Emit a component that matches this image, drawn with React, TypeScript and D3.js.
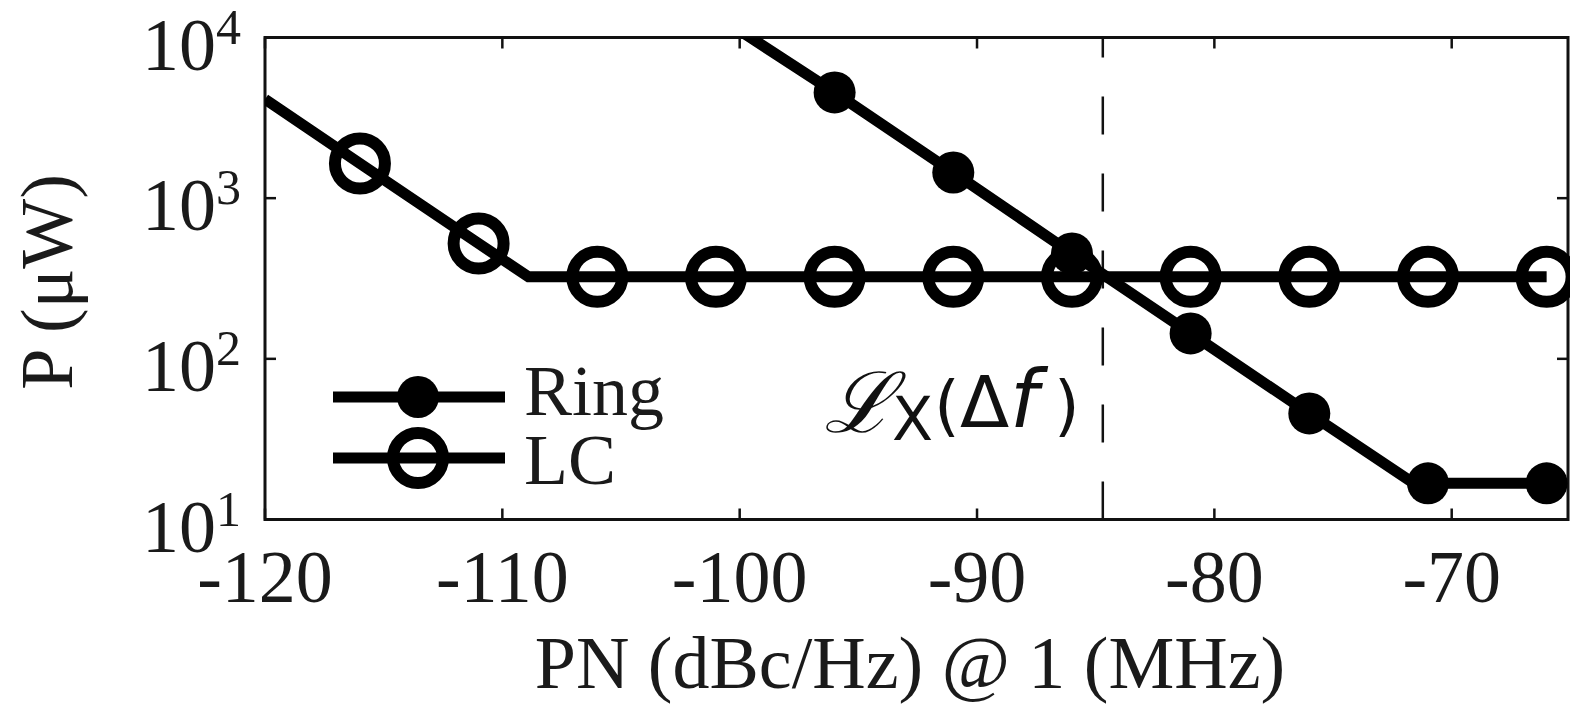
import React, { useRef, useEffect } from 'react'
import * as d3 from 'd3'

// axis ticks
const pnTicks = [-120, -110, -100, -90, -80, -70]
const powerTicks = [10, 100, 1000, 10000]

// Ring oscillator (filled markers)
const ringLinePN = [-101, -96, -91, -86, -81, -76, -71.6, -66]
const ringLineP = [13800, 4550, 1445, 453, 144, 45.7, 16.8, 16.8]
const ringMarkPN = [-96, -91, -86, -81, -76, -71, -66]
const ringMarkP = [4550, 1445, 453, 144, 45.7, 16.8, 16.8]

// LC oscillator (open markers)
const lcLinePN = [-120, -116, -111, -108.9, -66]
const lcLineP = [4130, 1644, 522, 324, 324]
const lcMarkPN = [-116, -111, -106, -101, -96, -91, -86, -81, -76, -71, -66]
const lcMarkP = [1644, 522, 324, 324, 324, 324, 324, 324, 324, 324, 324]

// crossing point marked by the dashed line
const crossPN = -84.7

const serif = '"Liberation Serif", "Times New Roman", serif'

export default function App() {
  const svgRef = useRef<SVGSVGElement>(null)

  useEffect(() => {
    const width = 1570
    const height = 704
    const left = 265, right = 1568, top = 37.5, bottom = 519.5

    const svg = d3.select(svgRef.current)
    svg.selectAll('*').remove()
    svg.attr('viewBox', `0 0 ${width} ${height}`)

    const x = d3.scaleLinear().domain([-120, -65.1]).range([left, right])
    const y = d3.scaleLog().domain([10, 10000]).range([bottom, top])

    svg.append('defs').append('clipPath').attr('id', 'plotclip')
      .append('rect')
      .attr('x', left).attr('y', top)
      .attr('width', right - left).attr('height', bottom - top)

    // ticks (inward, all four sides)
    const tk = svg.append('g').attr('stroke', '#111').attr('stroke-width', 2.5)
    pnTicks.forEach(t => {
      tk.append('line').attr('x1', x(t)).attr('x2', x(t)).attr('y1', bottom).attr('y2', bottom - 11)
      tk.append('line').attr('x1', x(t)).attr('x2', x(t)).attr('y1', top).attr('y2', top + 11)
    })
    powerTicks.forEach(t => {
      tk.append('line').attr('x1', left).attr('x2', left + 11).attr('y1', y(t)).attr('y2', y(t))
      tk.append('line').attr('x1', right).attr('x2', right - 11).attr('y1', y(t)).attr('y2', y(t))
    })

    // dashed crossing line, drawn bottom to top
    svg.append('line')
      .attr('x1', x(crossPN)).attr('x2', x(crossPN))
      .attr('y1', bottom).attr('y2', top)
      .attr('stroke', '#111').attr('stroke-width', 2.5)
      .attr('stroke-dasharray', '38 39')

    // frame
    svg.append('rect')
      .attr('x', left).attr('y', top)
      .attr('width', right - left).attr('height', bottom - top)
      .attr('fill', 'none').attr('stroke', '#111').attr('stroke-width', 3)

    // x tick labels
    svg.append('g').selectAll('text').data(pnTicks).join('text')
      .attr('x', d => x(d)).attr('y', 602)
      .attr('text-anchor', 'middle')
      .attr('font-family', serif).attr('font-size', 74).attr('fill', '#1a1a1a')
      .text(d => String(d))

    // y tick labels 10^n
    const yl = svg.append('g').attr('font-family', serif).attr('fill', '#1a1a1a')
    powerTicks.forEach(t => {
      yl.append('text').attr('x', 216).attr('y', y(t) + 32)
        .attr('text-anchor', 'end').attr('font-size', 74).text('10')
      yl.append('text').attr('x', 216).attr('y', y(t) + 6)
        .attr('font-size', 50).text(String(Math.round(Math.log10(t))))
    })

    // axis titles
    svg.append('text')
      .attr('x', 910).attr('y', 688)
      .attr('text-anchor', 'middle')
      .attr('font-family', serif).attr('font-size', 74).attr('fill', '#1a1a1a')
      .text('PN (dBc/Hz) @ 1 (MHz)')
    svg.append('text')
      .attr('transform', 'translate(72,282) rotate(-90)')
      .attr('text-anchor', 'middle')
      .attr('font-family', serif).attr('font-size', 74).attr('fill', '#1a1a1a')
      .text('P (μW)')

    const line = d3.line<[number, number]>()
      .x(d => x(d[0]))
      .y(d => y(d[1]))

    const plot = svg.append('g').attr('clip-path', 'url(#plotclip)')
    plot.append('path')
      .datum(lcLinePN.map((v, i) => [v, lcLineP[i]] as [number, number]))
      .attr('d', line)
      .attr('fill', 'none').attr('stroke', '#000').attr('stroke-width', 11)
    plot.append('path')
      .datum(ringLinePN.map((v, i) => [v, ringLineP[i]] as [number, number]))
      .attr('d', line)
      .attr('fill', 'none').attr('stroke', '#000').attr('stroke-width', 11)

    svg.append('g').selectAll('circle').data(ringMarkPN).join('circle')
      .attr('cx', d => x(d)).attr('cy', (d, i) => y(ringMarkP[i]))
      .attr('r', 21).attr('fill', '#000')
    svg.append('g').selectAll('circle').data(lcMarkPN).join('circle')
      .attr('cx', d => x(d)).attr('cy', (d, i) => y(lcMarkP[i]))
      .attr('r', 25).attr('fill', 'none').attr('stroke', '#000').attr('stroke-width', 12)

    // legend
    const lg = svg.append('g')
    lg.append('line').attr('x1', 333).attr('x2', 505).attr('y1', 397).attr('y2', 397)
      .attr('stroke', '#000').attr('stroke-width', 11)
    lg.append('circle').attr('cx', 418).attr('cy', 397).attr('r', 21).attr('fill', '#000')
    lg.append('line').attr('x1', 333).attr('x2', 505).attr('y1', 458).attr('y2', 458)
      .attr('stroke', '#000').attr('stroke-width', 11)
    lg.append('circle').attr('cx', 418).attr('cy', 458).attr('r', 25)
      .attr('fill', 'none').attr('stroke', '#000').attr('stroke-width', 12)
    lg.append('text').attr('x', 524).attr('y', 415)
      .attr('font-family', serif).attr('font-size', 72).attr('fill', '#1a1a1a').text('Ring')
    lg.append('text').attr('x', 524).attr('y', 484)
      .attr('font-family', serif).attr('font-size', 72).attr('fill', '#1a1a1a').text('LC')

    // annotation L_X(Δf)
    const an = svg.append('g').attr('font-family', '"DejaVu Sans", sans-serif').attr('fill', '#111')
    an.append('text').attr('x', 824).attr('y', 432).attr('font-size', 84)
      .attr('font-family', '"DejaVu Serif", serif').attr('font-style', 'italic').text('ℒ')
    an.append('text').attr('x', 892).attr('y', 440).attr('font-size', 60).text('X')
    an.append('text').attr('x', 934).attr('y', 428).attr('font-size', 66).text('(')
    an.append('text').attr('x', 960).attr('y', 427).attr('font-size', 72).text('Δ')
    an.append('text').attr('x', 1010).attr('y', 427).attr('font-size', 80)
      .attr('font-style', 'italic').text('f')
    an.append('text').attr('x', 1054).attr('y', 428).attr('font-size', 66).text(')')
  }, [])

  return (
    <svg
      ref={svgRef}
      width={1570}
      height={704}
      style={{ position: 'absolute', left: 0, top: 0, background: '#fff' }}
    />
  )
}
